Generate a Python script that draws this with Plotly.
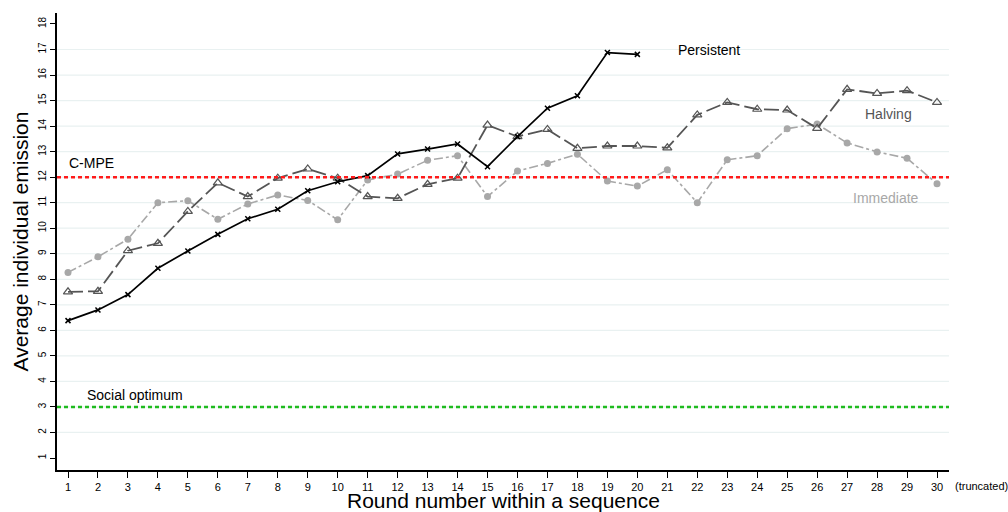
import plotly.graph_objects as go

rounds = list(range(1, 31))
persistent = [6.38, 6.80, 7.40, 8.43, 9.11, 9.76, 10.37, 10.74, 11.47, 11.82,
              12.06, 12.91, 13.10, 13.30, 12.41, 13.59, 14.70, 15.19, 16.88, 16.81]
halving = [7.51, 7.53, 9.12, 9.41, 10.66, 11.78, 11.24, 11.96, 12.32, 11.96,
           11.24, 11.17, 11.72, 11.96, 14.04, 13.59, 13.87, 13.13, 13.22, 13.22,
           13.15, 14.44, 14.93, 14.66, 14.63, 13.91, 15.44, 15.28, 15.39, 14.93]
immediate = [8.27, 8.88, 9.57, 11.00, 11.08, 10.35, 10.95, 11.30, 11.09, 10.33,
             11.89, 12.12, 12.66, 12.84, 11.24, 12.24, 12.54, 12.90, 11.85, 11.65,
             12.29, 11.00, 12.68, 12.84, 13.90, 14.08, 13.34, 12.99, 12.74, 11.74]
c_mpe = 12
social_optimum = 3
y_ticks = list(range(1, 19))
grid_levels = list(range(2, 18))

FONT = "Liberation Sans, Arial, sans-serif"

fig = go.Figure()

for g in grid_levels:
    fig.add_shape(type="line", xref="paper", x0=0, x1=1, yref="y", y0=g, y1=g,
                  line=dict(color="#e9f1f1", width=1.2), layer="below")

fig.add_shape(type="line", xref="paper", x0=0, x1=1, yref="y", y0=c_mpe, y1=c_mpe,
              line=dict(color="#ff1a1a", width=2.5, dash="4px,3px"))
fig.add_shape(type="line", xref="paper", x0=0, x1=1, yref="y", y0=social_optimum, y1=social_optimum,
              line=dict(color="#1fbb1f", width=2.5, dash="4px,3px"))

fig.add_trace(go.Scatter(
    x=rounds, y=immediate, mode="lines+markers", name="Immediate",
    line=dict(color="#a8a8a8", width=1.6, dash="dashdot"),
    marker=dict(symbol="circle", size=7, color="#a8a8a8")))
fig.add_trace(go.Scatter(
    x=rounds, y=halving, mode="lines+markers", name="Halving",
    line=dict(color="#555555", width=1.8, dash="15px,5px"),
    marker=dict(symbol="triangle-up-open", size=8, color="#555555", line=dict(width=1.2))))
fig.add_trace(go.Scatter(
    x=rounds[:len(persistent)], y=persistent, mode="lines+markers", name="Persistent",
    line=dict(color="#000000", width=1.7),
    marker=dict(symbol="x-thin", size=5, line=dict(width=1.5, color="#000000"))))

ann = [
    dict(text="C-MPE", x=0.98, y=12.55, color="#000000"),
    dict(text="Social optimum", x=1.57, y=3.47, color="#000000"),
    dict(text="Persistent", x=21.3, y=16.98, color="#000000"),
    dict(text="Halving", x=27.53, y=14.47, color="#555555"),
    dict(text="Immediate", x=27.13, y=11.18, color="#a8a8a8"),
]
for a in ann:
    fig.add_annotation(x=a["x"], y=a["y"], text=a["text"], showarrow=False,
                       xanchor="left", yanchor="middle",
                       font=dict(family=FONT, size=14, color=a["color"]))

fig.add_annotation(x=1.005, xref="paper", y=0, yref="paper", text="(truncated)", showarrow=False,
                   xanchor="left", yanchor="top", yshift=-8,
                   font=dict(family=FONT, size=11, color="#000000"))

# axis titles
fig.add_annotation(x=0.5, xref="paper", y=0, yref="paper", text="Round number within a sequence",
                   showarrow=False, xanchor="center", yanchor="middle", yshift=-30,
                   font=dict(family=FONT, size=21, color="#000000"))
fig.add_annotation(x=0, xref="paper", y=0.5, yref="paper", text="Average individual emission",
                   showarrow=False, xanchor="center", yanchor="middle", xshift=-37, textangle=-90,
                   font=dict(family=FONT, size=21, color="#000000"))

fig.update_layout(
    width=1008, height=512,
    margin=dict(l=57, r=59, t=13, b=42),
    plot_bgcolor="white", paper_bgcolor="white",
    showlegend=False,
    font=dict(family=FONT, color="#000000"),
    xaxis=dict(range=[0.633, 30.4], tickmode="array", tickvals=rounds, automargin=False,
               showgrid=False, zeroline=False, showline=True, linecolor="#000000", linewidth=1.5,
               ticks="outside", ticklen=6, tickcolor="#000000", tickfont=dict(size=11)),
    yaxis=dict(range=[0.53, 18.43], tickmode="array", tickvals=y_ticks, automargin=False,
               showgrid=False, zeroline=False, showline=True, linecolor="#000000", linewidth=1.5,
               ticks="outside", ticklen=5, tickcolor="#000000", tickfont=dict(size=10), tickangle=-90),
)

fig.write_html("out.html", config={"displayModeBar": False},
               post_script="document.body.style.margin='0';")
